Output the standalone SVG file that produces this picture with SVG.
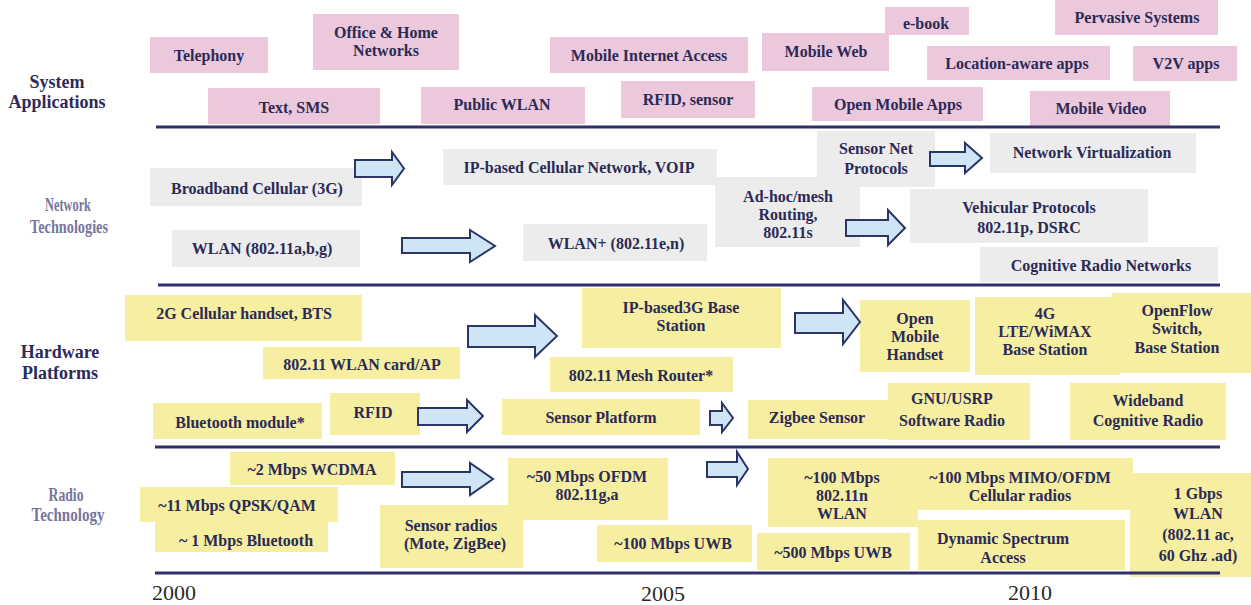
<svg xmlns="http://www.w3.org/2000/svg" width="1251" height="605" viewBox="0 0 1251 605">
<style>
.pk{fill:#ebc8dc}
.gy{fill:#ececec}
.yl{fill:#f6eea0}
.t{font-family:"Liberation Serif",serif;font-weight:bold;font-size:16px;fill:#2b2a56;text-anchor:middle;dominant-baseline:central}
.lb{font-family:"Liberation Serif",serif;font-weight:bold;font-size:18px;fill:#2b2a5c;text-anchor:middle;dominant-baseline:central}
.lg{font-family:"Liberation Serif",serif;font-weight:bold;font-size:18px;fill:#76769a;text-anchor:middle;dominant-baseline:central}
.yr{font-family:"Liberation Serif",serif;font-size:22px;fill:#2a2a2a;text-anchor:middle;dominant-baseline:central}
.ln{stroke:#303068;stroke-width:3;fill:none}
.ar{fill:#cfe5f6;stroke:#2b3566;stroke-width:2;stroke-linejoin:miter}
</style>
<rect width="1251" height="605" fill="#ffffff"/>

<!-- row labels -->
<g id="label-system"><text class="lb" x="57" y="82">System</text><text class="lb" x="57" y="102">Applications</text></g>
<g id="label-network"><text class="lg" x="68" y="205" textLength="46" lengthAdjust="spacingAndGlyphs">Network</text><text class="lg" x="69" y="227" textLength="78" lengthAdjust="spacingAndGlyphs">Technologies</text></g>
<g id="label-hardware"><text class="lb" x="60" y="352">Hardware</text><text class="lb" x="60" y="373">Platforms</text></g>
<g id="label-radio"><text class="lg" x="66" y="495" textLength="35" lengthAdjust="spacingAndGlyphs">Radio</text><text class="lg" x="68" y="515" textLength="73" lengthAdjust="spacingAndGlyphs">Technology</text></g>

<!-- System Applications -->
<g id="telephony"><rect class="pk" x="150" y="37" width="118" height="36"/><text class="t" x="209" y="55">Telephony</text></g>
<g id="office-home"><rect class="pk" x="313" y="14" width="146" height="56"/><text class="t" x="386" y="32">Office &amp; Home</text><text class="t" x="386" y="50">Networks</text></g>
<g id="text-sms"><rect class="pk" x="208" y="88" width="172" height="36"/><text class="t" x="294" y="107">Text, SMS</text></g>
<g id="public-wlan"><rect class="pk" x="421" y="87" width="164" height="37"/><text class="t" x="502" y="104">Public WLAN</text></g>
<g id="mobile-internet"><rect class="pk" x="550" y="37" width="198" height="36"/><text class="t" x="649" y="55">Mobile Internet Access</text></g>
<g id="rfid-sensor"><rect class="pk" x="621" y="81" width="134" height="37"/><text class="t" x="688" y="99">RFID, sensor</text></g>
<g id="mobile-web"><rect class="pk" x="762" y="33" width="127" height="38"/><text class="t" x="826" y="51">Mobile Web</text></g>
<g id="e-book"><rect class="pk" x="885" y="7" width="84" height="28"/><text class="t" x="926" y="23">e-book</text></g>
<g id="pervasive"><rect class="pk" x="1055" y="0" width="163" height="35"/><text class="t" x="1137" y="17">Pervasive Systems</text></g>
<g id="location-aware"><rect class="pk" x="927" y="46" width="183" height="34"/><text class="t" x="1017" y="63">Location-aware apps</text></g>
<g id="v2v"><rect class="pk" x="1133" y="46" width="104" height="35"/><text class="t" x="1186" y="63">V2V apps</text></g>
<g id="open-mobile-apps"><rect class="pk" x="812" y="87" width="171" height="34"/><text class="t" x="898" y="104">Open Mobile Apps</text></g>
<g id="mobile-video"><rect class="pk" x="1030" y="91" width="140" height="37"/><text class="t" x="1101" y="108">Mobile Video</text></g>

<!-- Network Technologies -->
<g id="broadband"><rect class="gy" x="150" y="168" width="212" height="38"/><text class="t" x="257" y="188">Broadband Cellular (3G)</text></g>
<g id="wlan-abg"><rect class="gy" x="172" y="230" width="188" height="37"/><text class="t" x="262" y="248">WLAN (802.11a,b,g)</text></g>
<g id="ip-cellular"><rect class="gy" x="443" y="149" width="274" height="36"/><text class="t" x="579" y="167">IP-based Cellular Network, VOIP</text></g>
<g id="wlan-plus"><rect class="gy" x="523" y="224" width="184" height="37"/><text class="t" x="616" y="243">WLAN+ (802.11e,n)</text></g>
<g id="adhoc"><rect class="gy" x="715" y="177" width="145" height="70"/><text class="t" x="788" y="196">Ad-hoc/mesh</text><text class="t" x="788" y="214">Routing,</text><text class="t" x="788" y="232">802.11s</text></g>
<g id="sensor-net"><rect class="gy" x="817" y="131" width="118" height="56"/><text class="t" x="876" y="148">Sensor Net</text><text class="t" x="876" y="168">Protocols</text></g>
<g id="net-virt"><rect class="gy" x="990" y="133" width="206" height="40"/><text class="t" x="1092" y="152">Network Virtualization</text></g>
<g id="vehicular"><rect class="gy" x="910" y="189" width="238" height="54"/><text class="t" x="1029" y="207">Vehicular Protocols</text><text class="t" x="1029" y="227">802.11p, DSRC</text></g>
<g id="cognitive-net"><rect class="gy" x="980" y="247" width="238" height="35"/><text class="t" x="1101" y="265">Cognitive Radio Networks</text></g>

<!-- Hardware Platforms -->
<g id="hw-2g"><rect class="yl" x="125" y="295" width="237" height="46"/><text class="t" x="244" y="313">2G Cellular handset, BTS</text></g>
<g id="hw-wlan-card"><rect class="yl" x="263" y="347" width="197" height="32"/><text class="t" x="362" y="364">802.11 WLAN card/AP</text></g>
<g id="hw-bluetooth"><rect class="yl" x="153" y="403" width="169" height="36"/><text class="t" x="240" y="422">Bluetooth module*</text></g>
<g id="hw-rfid"><rect class="yl" x="330" y="393" width="90" height="42"/><text class="t" x="373" y="412">RFID</text></g>
<g id="hw-ip3g"><rect class="yl" x="582" y="288" width="199" height="60"/><text class="t" x="681" y="307">IP-based3G Base</text><text class="t" x="681" y="325">Station</text></g>
<g id="hw-mesh"><rect class="yl" x="550" y="357" width="183" height="35"/><text class="t" x="641" y="375">802.11 Mesh Router*</text></g>
<g id="hw-sensor-platform"><rect class="yl" x="502" y="399" width="198" height="36"/><text class="t" x="601" y="417">Sensor Platform</text></g>
<g id="hw-zigbee"><rect class="yl" x="748" y="400" width="140" height="39"/><text class="t" x="817" y="417">Zigbee Sensor</text></g>
<g id="hw-gnu"><rect class="yl" x="888" y="383" width="142" height="57"/><text class="t" x="952" y="398">GNU/USRP</text><text class="t" x="952" y="420">Software Radio</text></g>
<g id="hw-open-handset"><rect class="yl" x="860" y="300" width="110" height="72"/><text class="t" x="915" y="318">Open</text><text class="t" x="915" y="336">Mobile</text><text class="t" x="915" y="354">Handset</text></g>
<g id="hw-4g"><rect class="yl" x="975" y="297" width="145" height="78"/><text class="t" x="1045" y="313">4G</text><text class="t" x="1045" y="331">LTE/WiMAX</text><text class="t" x="1045" y="349">Base Station</text></g>
<g id="hw-openflow"><rect class="yl" x="1112" y="293" width="139" height="80"/><text class="t" x="1177" y="310">OpenFlow</text><text class="t" x="1177" y="328">Switch,</text><text class="t" x="1177" y="347">Base Station</text></g>
<g id="hw-wideband"><rect class="yl" x="1070" y="383" width="156" height="57"/><text class="t" x="1148" y="400">Wideband</text><text class="t" x="1148" y="420">Cognitive Radio</text></g>

<!-- Radio Technology -->
<g id="rt-wcdma"><rect class="yl" x="230" y="452" width="165" height="33"/><text class="t" x="312" y="469">~2 Mbps WCDMA</text></g>
<g id="rt-qpsk"><rect class="yl" x="140" y="487" width="198" height="35"/><text class="t" x="237" y="505">~11 Mbps QPSK/QAM</text></g>
<g id="rt-bluetooth"><rect class="yl" x="155" y="522" width="173" height="30"/><text class="t" x="246" y="540">~ 1 Mbps Bluetooth</text></g>
<g id="rt-sensor-radios"><rect class="yl" x="380" y="505" width="143" height="63"/><text class="t" x="451" y="525">Sensor radios</text><text class="t" x="455" y="543">(Mote, ZigBee)</text></g>
<g id="rt-ofdm"><rect class="yl" x="508" y="458" width="160" height="62"/><text class="t" x="587" y="476">~50 Mbps OFDM</text><text class="t" x="587" y="494">802.11g,a</text></g>
<g id="rt-uwb100"><rect class="yl" x="597" y="525" width="155" height="37"/><text class="t" x="673" y="543">~100 Mbps UWB</text></g>
<g id="rt-80211n"><rect class="yl" x="768" y="458" width="150" height="69"/><text class="t" x="842" y="477">~100 Mbps</text><text class="t" x="842" y="495">802.11n</text><text class="t" x="842" y="513">WLAN</text></g>
<g id="rt-mimo"><rect class="yl" x="910" y="458" width="223" height="52"/><text class="t" x="1020" y="477">~100 Mbps MIMO/OFDM</text><text class="t" x="1020" y="495">Cellular radios</text></g>
<g id="rt-uwb500"><rect class="yl" x="757" y="533" width="153" height="37"/><text class="t" x="833" y="552">~500 Mbps UWB</text></g>
<g id="rt-dsa"><rect class="yl" x="918" y="520" width="207" height="50"/><text class="t" x="1003" y="538">Dynamic Spectrum</text><text class="t" x="1003" y="557">Access</text></g>
<g id="rt-1gbps"><rect class="yl" x="1130" y="473" width="121" height="104"/><text class="t" x="1198" y="493">1 Gbps</text><text class="t" x="1198" y="513">WLAN</text><text class="t" x="1198" y="534">(802.11 ac,</text><text class="t" x="1198" y="555">60 Ghz .ad)</text></g>

<!-- separator lines -->
<g id="separators">
<line class="ln" x1="156" y1="127" x2="1220" y2="127"/>
<line class="ln" x1="158" y1="285" x2="1220" y2="285"/>
<line class="ln" x1="155" y1="447" x2="1220" y2="447"/>
<line class="ln" x1="155" y1="573" x2="1220" y2="573"/>
</g>

<!-- years -->
<g id="years">
<text class="yr" x="174" y="592">2000</text>
<text class="yr" x="663" y="593">2005</text>
<text class="yr" x="1030" y="592">2010</text>
</g>

<!-- connectors: block arrows -->
<g id="connectors">
<polygon class="ar" points="355,160 392,160 392,152 404,168.5 392,185 392,177 355,177"/>
<polygon class="ar" points="402,238 470,238 470,230 495,246 470,262 470,253 402,253"/>
<polygon class="ar" points="930,152 965,152 965,143 982,158 965,173 965,166 930,166"/>
<polygon class="ar" points="846,220 888,220 888,210 905,228 888,245 888,236 846,236"/>
<polygon class="ar" points="468,326 535,326 535,315 557,336 535,357 535,347 468,347"/>
<polygon class="ar" points="418,408 467,408 467,400 483,416 467,432 467,425 418,425"/>
<polygon class="ar" points="710,411 722,411 722,403 733,418 722,432 722,425 710,425"/>
<polygon class="ar" points="795,313 843,313 843,300 860,322 843,344 843,333 795,333"/>
<polygon class="ar" points="402,472 470,472 470,463 493,479 470,495 470,487 402,487"/>
<polygon class="ar" points="707,462 737,462 737,452 748,469 737,485 737,477 707,477"/>
</g>
</svg>
